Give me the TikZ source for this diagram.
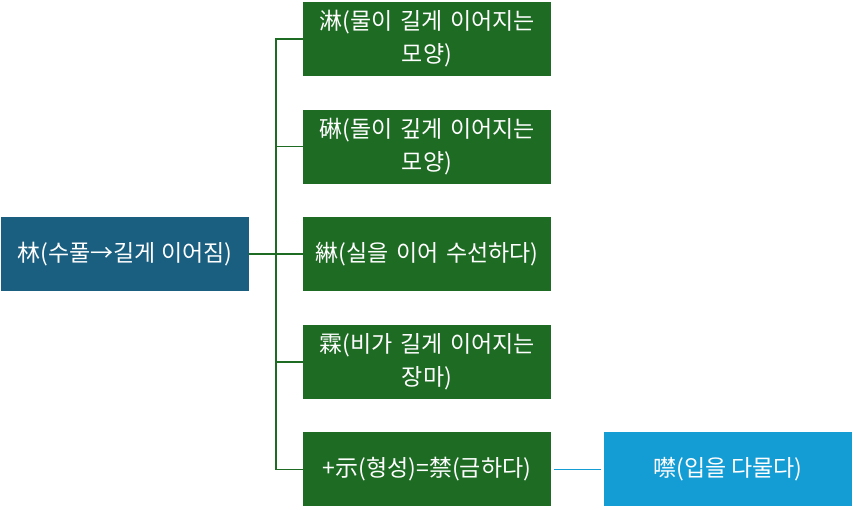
\documentclass[tikz,border=0pt]{standalone}
\usepackage{fontspec}
\setmainfont{Noto Sans CJK KR}
\usetikzlibrary{positioning}
\definecolor{rootblue}{RGB}{26,95,128}
\definecolor{leafgreen}{RGB}{30,107,36}
\definecolor{lightblue}{RGB}{20,156,212}
\tikzstyle{rootbox} = [rectangle, minimum width=248pt, minimum height=74pt, text centered, fill=rootblue, text=white, inner sep=0pt, outer sep=0pt]
\tikzstyle{leafbox} = [rectangle, minimum width=248pt, minimum height=74pt, text width=246pt, align=center, fill=leafgreen, text=white, inner sep=0pt, outer sep=0pt, font=\fontsize{23}{33}\selectfont]
\tikzstyle{endbox} = [rectangle, minimum width=248pt, minimum height=74pt, text centered, fill=lightblue, text=white, inner sep=0pt, outer sep=0pt]
\tikzstyle{branch} = [draw=leafgreen, line width=1.5pt]
\tikzstyle{link} = [draw=lightblue, line width=1.5pt]

\begin{document}
\begin{tikzpicture}[x=1pt, y=1pt, node distance=33.6pt, font=\fontsize{23}{33}\selectfont]
			\useasboundingbox (0,0) rectangle (854,-510);
			\node[leafbox] (1) at (427,-39) {淋(물이 길게 이어지는\\모양)};
			\node[leafbox, below=of 1] (2) {碄(돌이 깊게 이어지는\\모양)};
			\node[leafbox, below=of 2] (3) {綝(실을 이어 수선하다)};
			\node[leafbox, below=of 3] (4) {霖(비가 길게 이어지는\\장마)};
			\node[leafbox, below=of 4] (5) {+示(형성)=禁(금하다)};
			\node[rootbox, left=54pt of 3] (0) {林(수풀→길게 이어짐)};
			\node[endbox, right=53pt of 5] (6) {噤(입을 다물다)};
			
			\draw [branch] (0) -- (3);
			\draw [branch] (1.west) -- ++(-27,0) |- (5.west);
			\foreach \n in {2,3,4}
				\draw [branch] (\n.west) -- ++(-27,0);
			\draw [link] ([xshift=3pt]5.east) -- ([xshift=-3pt]6.west);
			
		\end{tikzpicture}
\end{document}
